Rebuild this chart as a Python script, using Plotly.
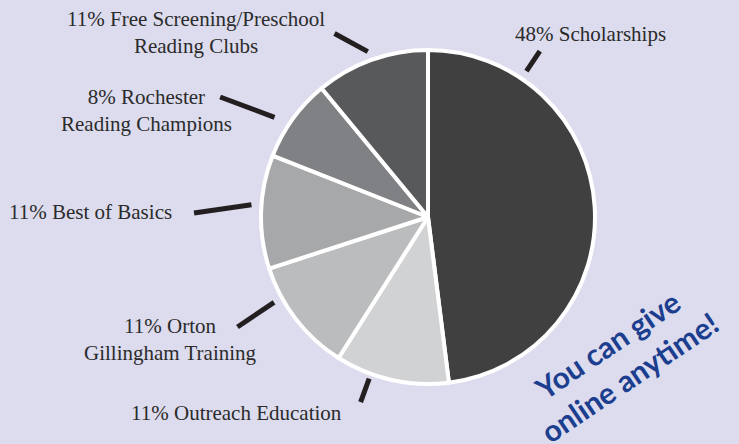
import math
import plotly.graph_objects as go

# ---- data ----
categories = ["Scholarships", "Outreach Education", "Orton Gillingham Training",
              "Best of Basics", "Rochester Reading Champions",
              "Free Screening/Preschool Reading Clubs"]
values = [48, 11, 11, 11, 8, 11]
label_texts = ["48% Scholarships", "11% Outreach Education",
               "11% Orton<br>Gillingham Training", "11% Best of Basics",
               "8% Rochester<br>Reading Champions",
               "11% Free Screening/Preschool<br>Reading Clubs"]

# ---- styles / layout ----
W, H = 739, 444
colors = ["#404040", "#d1d2d4", "#bbbcbe", "#a7a8aa", "#808184", "#58595b"]
bg = "#dcdcee"
cx, cy, R = 428, 217, 167  # pie centre / radius in pixels

# label placement (pixel centres) and leader lines (angle deg clockwise from top, radius px)
label_pos = [(590, 34), (236, 413), (170, 339), (90, 212), (146, 110), (196, 32)]
leaders = [((34, 176), (34, 200)),
           ((200, 172), (200, 197)),
           ((241, 176), (240, 220)),
           ((274, 177), (271, 234)),
           ((303, 183), (300, 240)),
           ((340, 176), (333, 206))]

def px(x, y):
    return x / W, 1 - y / H

def polar(a, r):
    t = math.radians(a)
    return cx + r * math.sin(t), cy - r * math.cos(t)

fig = go.Figure(go.Pie(
    labels=categories, values=values, sort=False, direction="clockwise",
    rotation=0, textinfo="none", hoverinfo="label+percent",
    marker=dict(colors=colors, line=dict(color="white", width=4)),
    domain=dict(x=[(cx - R) / W, (cx + R) / W], y=[1 - (cy + R) / H, 1 - (cy - R) / H]),
    showlegend=False,
))

shapes = []
for (a1, r1), (a2, r2) in leaders:
    x1, y1 = polar(a1, r1)
    x2, y2 = polar(a2, r2)
    X1, Y1 = px(x1, y1)
    X2, Y2 = px(x2, y2)
    shapes.append(dict(type="line", xref="paper", yref="paper", x0=X1, y0=Y1, x1=X2, y1=Y2,
                       line=dict(color="#231f20", width=5)))

annotations = []
for txt, (x, y) in zip(label_texts, label_pos):
    X, Y = px(x, y)
    annotations.append(dict(text=txt, x=X, y=Y, xref="paper", yref="paper", showarrow=False,
                            xanchor="center", yanchor="middle", align="center",
                            font=dict(family="Liberation Serif", size=21, color="#2b2b2b")))

X, Y = px(618, 360)
annotations.append(dict(text="<b>You can give<br>online anytime!</b>", x=X, y=Y,
                        xref="paper", yref="paper", showarrow=False, textangle=-34,
                        xanchor="center", yanchor="middle", align="center",
                        font=dict(family="Lato", size=30, color="#1c3e8e")))

fig.update_layout(width=W, height=H, margin=dict(l=0, r=0, t=0, b=0),
                  paper_bgcolor=bg, plot_bgcolor=bg, shapes=shapes, annotations=annotations)
fig.write_html("out.html", config={"displayModeBar": False},
               post_script="document.body.style.margin='0';document.body.style.background='%s';" % bg)
